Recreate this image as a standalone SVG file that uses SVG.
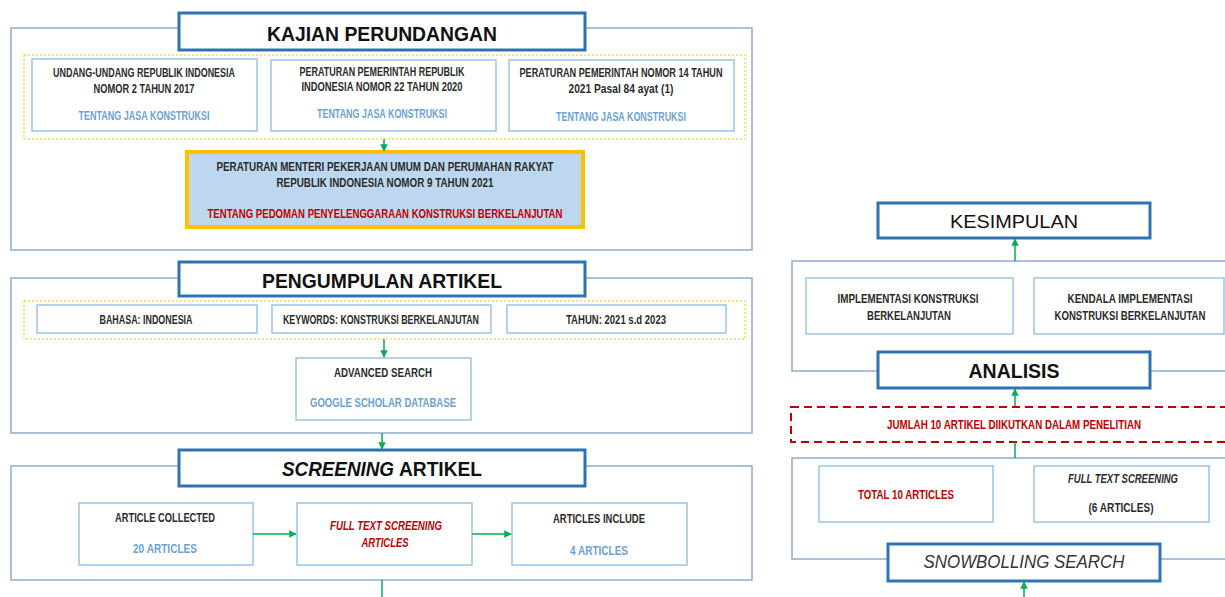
<svg xmlns="http://www.w3.org/2000/svg" width="1225" height="597" viewBox="0 0 1225 597">
<defs>
<style>
.outer{fill:none;stroke:#8eacd2;stroke-width:1.5}
.title{fill:#fff;stroke:#2e74b5;stroke-width:3}
.box{fill:#fff;stroke:#9dc3e6;stroke-width:1.5}
.ydot{fill:none;stroke:#ffc000;stroke-width:1;stroke-dasharray:2 2}
.t{font-family:"Liberation Sans Narrow","Liberation Sans",Arial,sans-serif;font-size:13px;font-weight:bold;fill:#2b2b2b;text-anchor:middle}
.b{fill:#6aa2d8}
.r{fill:#c00000}
.it{font-style:italic}
.h{font-family:"Liberation Sans",Arial,sans-serif;font-size:21px;font-weight:bold;fill:#111;text-anchor:middle}
.hs{font-family:"Liberation Sans",Arial,sans-serif;font-size:21px;font-weight:bold;fill:#111;text-anchor:start}
.conn{stroke:#00b050;stroke-width:1.5;fill:none}
</style>
<marker id="ah" viewBox="0 0 10 10" refX="9" refY="5" markerWidth="5" markerHeight="5" orient="auto">
<path d="M0,0 L10,5 L0,10 z" fill="#00b050"/>
</marker>
</defs>
<rect width="1225" height="597" fill="#fff"/>

<g id="kajian">
<rect class="outer" x="11" y="28" width="741" height="222"/>
<rect class="ydot" x="24" y="55" width="721" height="84"/>
<rect class="title" x="179" y="13" width="406" height="37"/>
<text class="h" x="382" y="41" textLength="230" lengthAdjust="spacingAndGlyphs">KAJIAN PERUNDANGAN</text>
</g>
<g id="uu2017">
<rect class="box" x="32" y="59" width="225" height="72"/>
<text class="t" x="144" y="77" textLength="182" lengthAdjust="spacingAndGlyphs">UNDANG-UNDANG REPUBLIK INDONESIA</text>
<text class="t" x="144" y="93" textLength="101" lengthAdjust="spacingAndGlyphs">NOMOR 2 TAHUN 2017</text>
<text class="t b" x="144" y="120" textLength="131" lengthAdjust="spacingAndGlyphs">TENTANG JASA KONSTRUKSI</text>
</g>
<g id="pp22">
<rect class="box" x="271" y="60" width="225" height="71"/>
<text class="t" x="382" y="76" textLength="165" lengthAdjust="spacingAndGlyphs">PERATURAN PEMERINTAH REPUBLIK</text>
<text class="t" x="382" y="91" textLength="161" lengthAdjust="spacingAndGlyphs">INDONESIA NOMOR 22 TAHUN 2020</text>
<text class="t b" x="382" y="118" textLength="130" lengthAdjust="spacingAndGlyphs">TENTANG JASA KONSTRUKSI</text>
</g>
<g id="pp14">
<rect class="box" x="509" y="60" width="225" height="71"/>
<text class="t" x="621" y="77" textLength="203" lengthAdjust="spacingAndGlyphs">PERATURAN PEMERINTAH NOMOR 14 TAHUN</text>
<text class="t" x="621" y="93" textLength="105" lengthAdjust="spacingAndGlyphs">2021 Pasal 84 ayat (1)</text>
<text class="t b" x="621" y="121" textLength="130" lengthAdjust="spacingAndGlyphs">TENTANG JASA KONSTRUKSI</text>
</g>
<g id="permen">
<rect x="187" y="152" width="396" height="75" fill="#bdd7ee" stroke="#ffc000" stroke-width="4"/>
<text class="t" x="385" y="171" textLength="337" lengthAdjust="spacingAndGlyphs">PERATURAN MENTERI PEKERJAAN UMUM DAN PERUMAHAN RAKYAT</text>
<text class="t" x="385" y="187" textLength="217" lengthAdjust="spacingAndGlyphs">REPUBLIK INDONESIA NOMOR 9 TAHUN 2021</text>
<text class="t r" x="385" y="218" textLength="355" lengthAdjust="spacingAndGlyphs">TENTANG PEDOMAN PENYELENGGARAAN KONSTRUKSI BERKELANJUTAN</text>
</g>

<g id="pengumpulan">
<rect class="outer" x="11" y="278" width="741" height="155"/>
<rect class="ydot" x="24" y="301" width="721" height="38"/>
<rect class="title" x="179" y="262" width="406" height="34"/>
<text class="h" x="382" y="288" textLength="240" lengthAdjust="spacingAndGlyphs">PENGUMPULAN ARTIKEL</text>
</g>
<g id="bahasa">
<rect class="box" x="37" y="305" width="220" height="28"/>
<text class="t" x="146" y="324" textLength="93" lengthAdjust="spacingAndGlyphs">BAHASA: INDONESIA</text>
</g>
<g id="keywords">
<rect class="box" x="272" y="305" width="219" height="28"/>
<text class="t" x="381" y="324" textLength="196" lengthAdjust="spacingAndGlyphs">KEYWORDS: KONSTRUKSI BERKELANJUTAN</text>
</g>
<g id="tahun">
<rect class="box" x="507" y="305" width="219" height="28"/>
<text class="t" x="616" y="324" textLength="100" lengthAdjust="spacingAndGlyphs">TAHUN: 2021 s.d 2023</text>
</g>
<g id="advanced">
<rect class="box" x="296" y="358" width="175" height="62"/>
<text class="t" x="383" y="377" textLength="98" lengthAdjust="spacingAndGlyphs">ADVANCED SEARCH</text>
<text class="t b" x="383" y="407" textLength="146" lengthAdjust="spacingAndGlyphs">GOOGLE SCHOLAR DATABASE</text>
</g>

<g id="screening">
<rect class="outer" x="11" y="466" width="741" height="114"/>
<rect class="title" x="179" y="450" width="406" height="36"/>
<text class="hs" x="282" y="476" font-style="italic" textLength="112" lengthAdjust="spacingAndGlyphs">SCREENING</text>
<text class="hs" x="399" y="476" textLength="83" lengthAdjust="spacingAndGlyphs">ARTIKEL</text>
</g>
<g id="collected">
<rect class="box" x="79" y="503" width="174" height="62"/>
<text class="t" x="165" y="522" textLength="100" lengthAdjust="spacingAndGlyphs">ARTICLE COLLECTED</text>
<text class="t b" x="165" y="553" textLength="64" lengthAdjust="spacingAndGlyphs">20 ARTICLES</text>
</g>
<g id="fulltext">
<rect class="box" x="297" y="503" width="175" height="62"/>
<text class="t r it" x="386" y="530" textLength="112" lengthAdjust="spacingAndGlyphs">FULL TEXT SCREENING</text>
<text class="t r it" x="385" y="547" textLength="47" lengthAdjust="spacingAndGlyphs">ARTICLES</text>
</g>
<g id="include">
<rect class="box" x="512" y="503" width="175" height="62"/>
<text class="t" x="599" y="523" textLength="92" lengthAdjust="spacingAndGlyphs">ARTICLES INCLUDE</text>
<text class="t b" x="599" y="555" textLength="58" lengthAdjust="spacingAndGlyphs">4 ARTICLES</text>
</g>

<g id="kesimpulan">
<rect class="title" x="878" y="203" width="272" height="35"/>
<text x="1014" y="228" font-family="Liberation Sans,Arial,sans-serif" font-size="19" fill="#111" text-anchor="middle" textLength="128" lengthAdjust="spacingAndGlyphs">KESIMPULAN</text>
</g>
<g id="analisis">
<rect class="outer" x="792" y="261" width="440" height="110"/>
<rect class="box" x="806" y="278" width="207" height="56"/>
<rect class="box" x="1034" y="278" width="190" height="56"/>
<text class="t" x="908" y="303" textLength="141" lengthAdjust="spacingAndGlyphs">IMPLEMENTASI KONSTRUKSI</text>
<text class="t" x="909" y="320" textLength="84" lengthAdjust="spacingAndGlyphs">BERKELANJUTAN</text>
<text class="t" x="1130" y="303" textLength="125" lengthAdjust="spacingAndGlyphs">KENDALA IMPLEMENTASI</text>
<text class="t" x="1130" y="320" textLength="151" lengthAdjust="spacingAndGlyphs">KONSTRUKSI BERKELANJUTAN</text>
<rect class="title" x="878" y="352" width="272" height="36"/>
<text class="h" x="1014" y="378" textLength="91" lengthAdjust="spacingAndGlyphs">ANALISIS</text>
</g>
<g id="jumlah">
<rect x="791" y="407" width="440" height="35" fill="none" stroke="#c00000" stroke-width="2" stroke-dasharray="8 5"/>
<text class="t r" x="1014" y="429" textLength="254" lengthAdjust="spacingAndGlyphs">JUMLAH 10 ARTIKEL DIIKUTKAN DALAM PENELITIAN</text>
</g>
<g id="snowbolling">
<rect class="outer" x="792" y="458" width="440" height="101"/>
<rect class="box" x="819" y="466" width="174" height="56"/>
<text class="t r" x="906" y="499" textLength="96" lengthAdjust="spacingAndGlyphs">TOTAL 10 ARTICLES</text>
<rect class="box" x="1034" y="466" width="175" height="56"/>
<text class="t it" x="1123" y="483" textLength="110" lengthAdjust="spacingAndGlyphs">FULL TEXT SCREENING</text>
<text class="t" x="1121" y="512" textLength="65" lengthAdjust="spacingAndGlyphs">(6 ARTICLES)</text>
<rect class="title" x="888" y="544" width="272" height="37"/>
<text x="1024" y="568" font-family="Liberation Sans,Arial,sans-serif" font-size="19" font-style="italic" fill="#333" text-anchor="middle" textLength="201" lengthAdjust="spacingAndGlyphs">SNOWBOLLING SEARCH</text>
</g>

<g id="connectors">
<line class="conn" x1="384" y1="139" x2="384" y2="151" marker-end="url(#ah)"/>
<line class="conn" x1="384" y1="339" x2="384" y2="357" marker-end="url(#ah)"/>
<line class="conn" x1="382" y1="433" x2="382" y2="449" marker-end="url(#ah)"/>
<line class="conn" x1="253" y1="534" x2="296" y2="534" marker-end="url(#ah)"/>
<line class="conn" x1="472" y1="534" x2="511" y2="534" marker-end="url(#ah)"/>
<line class="conn" x1="382" y1="580" x2="382" y2="597"/>
<line class="conn" x1="1024" y1="597" x2="1024" y2="582" marker-end="url(#ah)"/>
<line class="conn" x1="1015" y1="442" x2="1015" y2="458"/>
<line class="conn" x1="1015" y1="406" x2="1015" y2="389" marker-end="url(#ah)"/>
<line class="conn" x1="1015" y1="261" x2="1015" y2="239" marker-end="url(#ah)"/>
</g>
</svg>
